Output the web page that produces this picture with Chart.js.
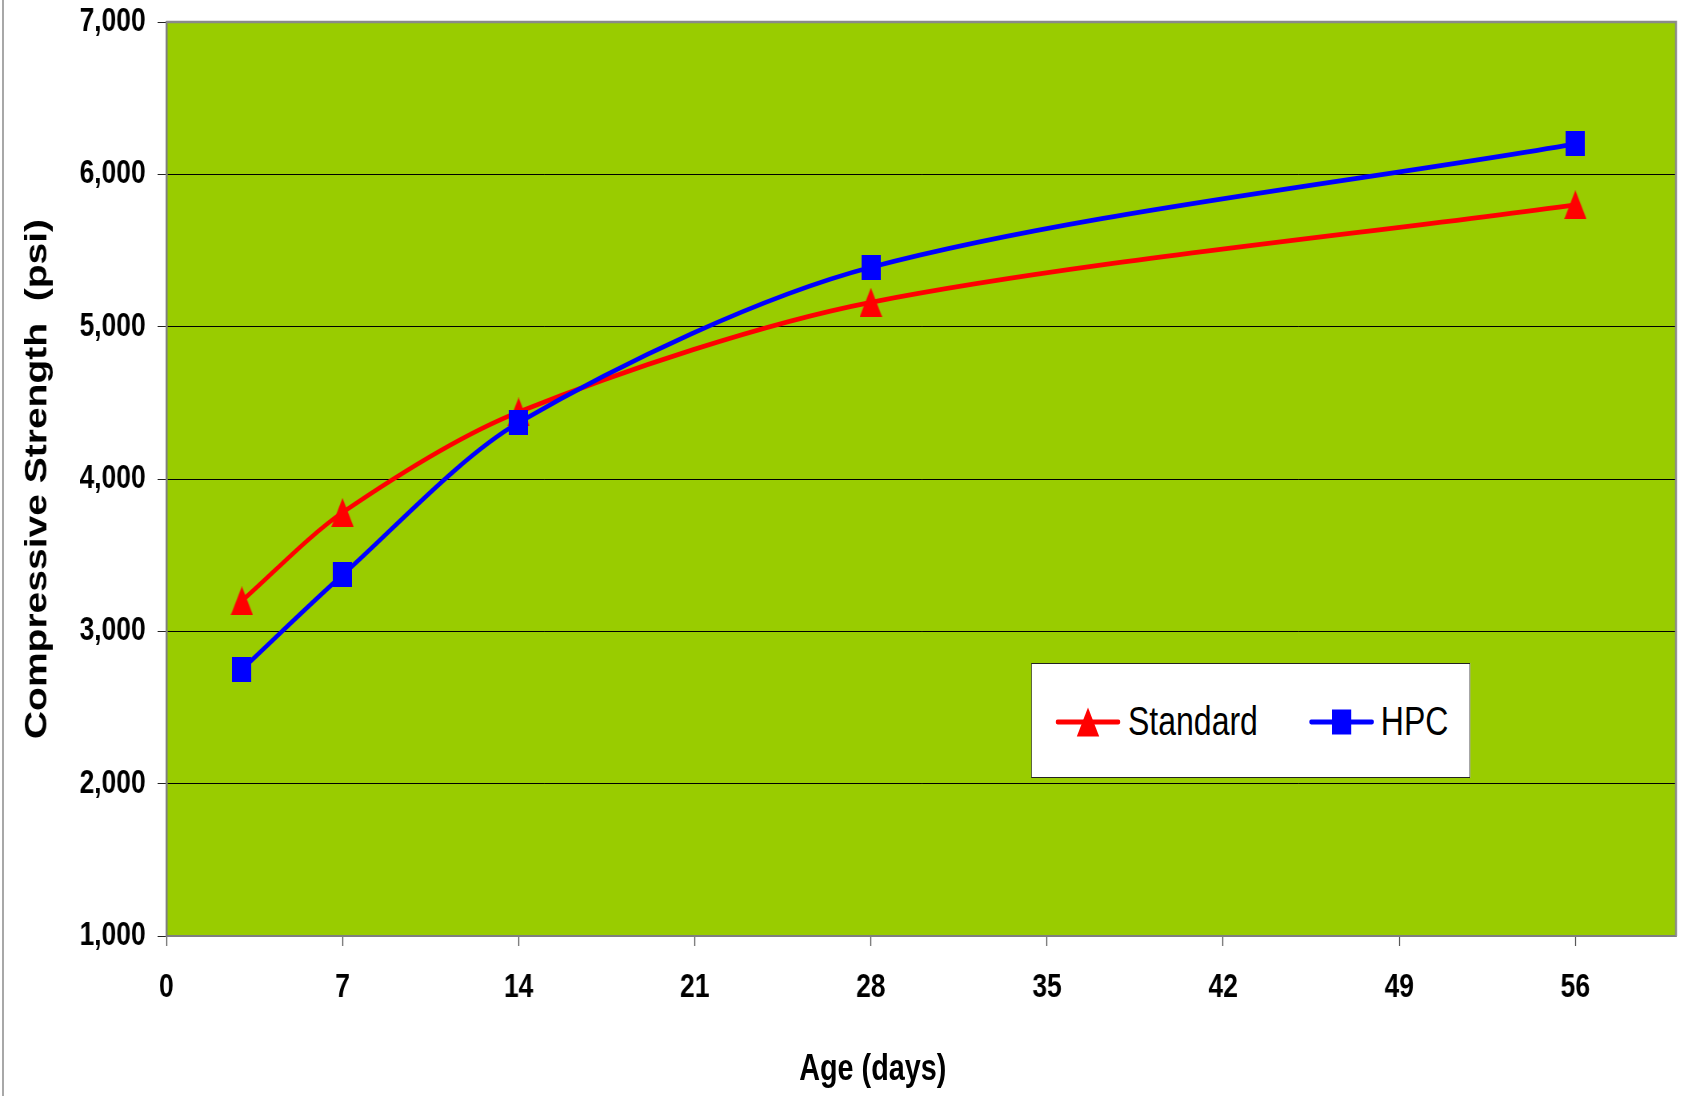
<!DOCTYPE html>
<html>
<head>
<meta charset="utf-8">
<script src="https://cdn.jsdelivr.net/npm/chart.js@4.4.1/dist/chart.umd.min.js"></script>
<style>
  html, body { margin: 0; padding: 0; background: #ffffff; overflow: hidden; }
  #outer { position: relative; width: 1684px; height: 1096px; overflow: hidden; background: #ffffff; }
  /* the reference chart is horizontally condensed; lay out at 2105px and squeeze to 1684px */
  #wrap { position: absolute; left: 0; top: 0; width: 2105px; height: 1096px; transform: scaleX(0.8); transform-origin: 0 0; }
  #c { position: absolute; left: 0; top: 0; }
  #frame { position: absolute; left: 2px; top: 0; width: 2px; height: 1096px; background: #a8a8a8; }
  #legend { position: absolute; left: 1289px; top: 663px; width: 547px; height: 113px; background: #ffffff; border: 1px solid #222222; }
  .lg-mark { position: absolute; top: 42px; }
  .lg-text { position: absolute; top: 37px; font-family: 'Liberation Sans', Arial, sans-serif; font-size: 40px; line-height: 40px; color: #000; white-space: nowrap; }
  #xtitle { position: absolute; left: 1091px; top: 1050px; transform: translateX(-50%); font-family: 'Liberation Sans', Arial, sans-serif; font-weight: bold; font-size: 36px; line-height: 36px; color: #000; white-space: nowrap; }
</style>
</head>
<body>
<div id="outer">
  <div id="wrap">
    <canvas id="c" width="2105" height="1096"></canvas>
    <div id="legend"></div>
    <div id="xtitle"></div>
  </div>
  <div id="frame"></div>
</div>
<script>
// ---- data ----
const days = [3, 7, 14, 28, 56];
const standardPsi = [3200, 3780, 4440, 5160, 5800];
const hpcPsi = [2750, 3370, 4370, 5390, 6200];
const xTickValues = [0, 7, 14, 21, 28, 35, 42, 49, 56];
const yTickValues = [1000, 2000, 3000, 4000, 5000, 6000, 7000];
const seriesNames = ['Standard', 'HPC'];
const xTitle = 'Age (days)';
const yTitle = 'Compressive Strength  (psi)';

// ---- styles ----
const RED = '#FF0000';
const BLUE = '#0000FF';
const GREEN = '#99CC00';
const FONT = "'Liberation Sans', Arial, sans-serif";

function makeTriangle(color) {
  const cv = document.createElement('canvas');
  cv.width = 28; cv.height = 29;
  const g = cv.getContext('2d');
  g.fillStyle = color;
  g.beginPath(); g.moveTo(14, 0); g.lineTo(28, 29); g.lineTo(0, 29); g.closePath(); g.fill();
  return cv;
}
function makeRect(color) {
  const cv = document.createElement('canvas');
  cv.width = 24; cv.height = 25;
  const g = cv.getContext('2d');
  g.fillStyle = color;
  g.fillRect(0, 0, 24, 25);
  return cv;
}

const plotBackground = {
  id: 'plotBackground',
  beforeDraw(chart) {
    const { ctx, chartArea: a } = chart;
    ctx.save();
    ctx.fillStyle = GREEN;
    ctx.fillRect(a.left, a.top, a.right - a.left, a.bottom - a.top);
    ctx.restore();
  },
  afterDraw(chart) {
    const { ctx, chartArea: a } = chart;
    ctx.save();
    ctx.strokeStyle = '#8a8a8a';
    ctx.lineWidth = 2.5;
    ctx.beginPath();
    ctx.moveTo(a.left, a.top);
    ctx.lineTo(a.right, a.top);
    ctx.lineTo(a.right, a.bottom);
    ctx.stroke();
    ctx.restore();
  }
};

const toPoints = (ys) => days.map((d, i) => ({ x: d, y: ys[i] }));

new Chart(document.getElementById('c'), {
  type: 'line',
  data: {
    datasets: [
      {
        label: seriesNames[0],
        data: toPoints(standardPsi),
        borderColor: RED,
        backgroundColor: RED,
        borderWidth: 4.8,
        pointStyle: makeTriangle(RED),
        pointRadius: 1,
        pointHoverRadius: 1,
        pointBorderWidth: 0,
        tension: 0.3,
        fill: false,
        order: 1
      },
      {
        label: seriesNames[1],
        data: toPoints(hpcPsi),
        borderColor: BLUE,
        backgroundColor: BLUE,
        borderWidth: 4.8,
        pointStyle: makeRect(BLUE),
        pointRadius: 1,
        pointHoverRadius: 1,
        pointBorderWidth: 0,
        tension: 0.3,
        fill: false,
        order: 0
      }
    ]
  },
  options: {
    responsive: false,
    animation: false,
    devicePixelRatio: 1,
    layout: { padding: { left: 0, top: 22, right: 10, bottom: 0 } },
    plugins: { legend: { display: false }, tooltip: { enabled: false } },
    scales: {
      x: {
        type: 'linear',
        min: 0,
        max: 60,
        afterBuildTicks: (s) => { s.ticks = xTickValues.map(v => ({ value: v })); },
        afterFit: (s) => { s.height = 160; s.paddingLeft = 0; s.paddingRight = 0; },
        grid: { drawOnChartArea: false, drawTicks: true, tickLength: 10, tickColor: '#444', tickWidth: 1.25 },
        border: { display: true, color: '#7f7f7f', width: 2 },
        ticks: { color: '#000', padding: 22, maxRotation: 0, autoSkip: false,
                 font: { family: FONT, size: 33, weight: 'bold' } },
        title: { display: false }
      },
      y: {
        type: 'linear',
        min: 1000,
        max: 7000,
        afterBuildTicks: (s) => { s.ticks = yTickValues.map(v => ({ value: v })); },
        afterFit: (s) => { s.width = 208; s.paddingTop = 0; s.paddingBottom = 0; },
        grid: { color: '#000', lineWidth: 1, drawTicks: true, tickLength: 11, tickColor: '#222' },
        border: { display: true, color: '#7f7f7f', width: 2.5 },
        ticks: { color: '#000', padding: 15, autoSkip: false,
                 callback: (v) => Number(v).toLocaleString('en-US'),
                 font: { family: FONT, size: 33, weight: 'bold' } },
        title: { display: true, text: yTitle, color: '#000',
                 font: { family: FONT, size: 39, weight: 'bold', lineHeight: 1 },
                 padding: { top: 28, bottom: 0 } }
      }
    }
  },
  plugins: [plotBackground]
});

// ---- legend (HTML) ----
function legendMark(kind, color) {
  const shape = kind === 'tri'
    ? `<polygon points="41,1.5 55,30.5 27,30.5" fill="${color}"/>`
    : `<rect x="29" y="3.5" width="24" height="25" fill="${color}"/>`;
  return `<svg width="82" height="32" viewBox="0 0 82 32"><line x1="3" y1="16" x2="79" y2="16" stroke="${color}" stroke-width="4.8" stroke-linecap="round"/>${shape}</svg>`;
}
const legend = document.getElementById('legend');
legend.innerHTML =
  `<div class="lg-mark" style="left:29px">${legendMark('tri', RED)}</div>` +
  `<div class="lg-text" style="left:120px">${seriesNames[0]}</div>` +
  `<div class="lg-mark" style="left:346px">${legendMark('rect', BLUE)}</div>` +
  `<div class="lg-text" style="left:436px">${seriesNames[1]}</div>`;
document.getElementById('xtitle').textContent = xTitle;
</script>
</body>
</html>
